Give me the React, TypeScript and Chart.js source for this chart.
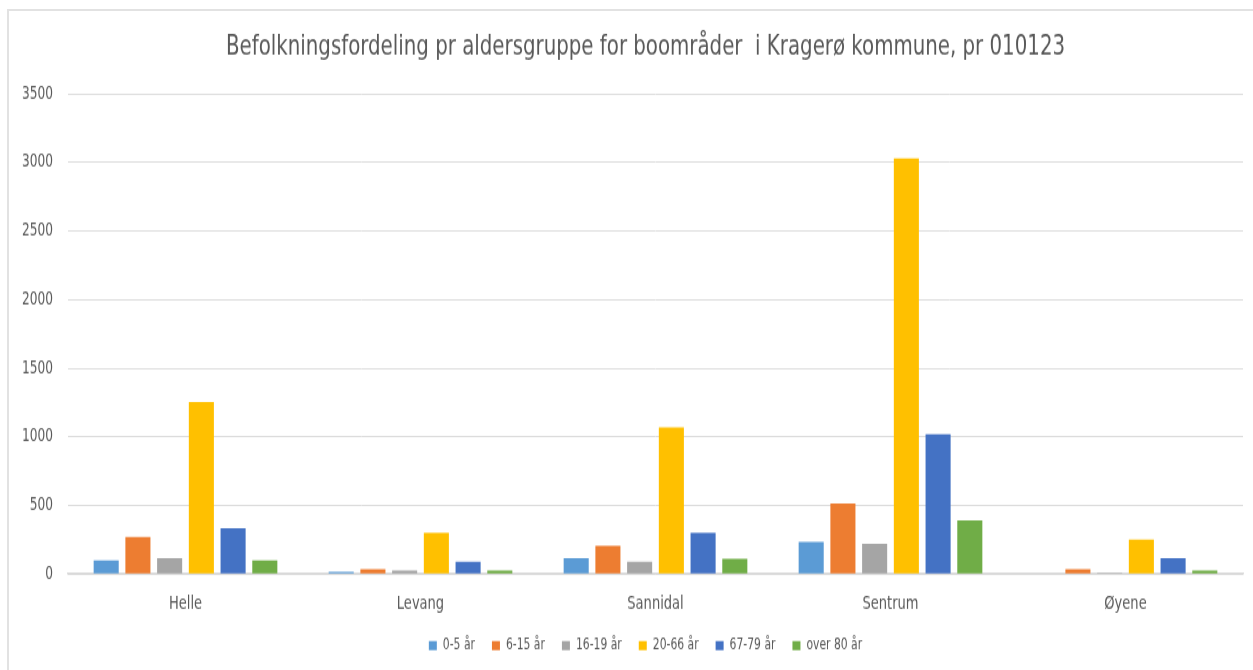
import React, { useEffect, useRef } from "react";
import { Chart, registerables } from "chart.js";

Chart.register(...registerables);

const categories = ["Helle", "Levang", "Sannidal", "Sentrum", "Øyene"];
const seriesNames = ["0-5 år", "6-15 år", "16-19 år", "20-66 år", "67-79 år", "over 80 år"];
const age0to5 = [100, 15, 115, 235, 0];
const age6to15 = [270, 35, 205, 515, 35];
const age16to19 = [115, 25, 90, 220, 8];
const age20to66 = [1255, 300, 1070, 3030, 250];
const age67to79 = [335, 90, 300, 1020, 115];
const over80 = [100, 25, 110, 390, 25];
const yTicks = [0, 500, 1000, 1500, 2000, 2500, 3000, 3500];
const yTickLabels = ["0", "500", "1000", "1500", "2000", "2500", "3000", "3500"];
const colors = ["#5B9BD5", "#ED7D31", "#A5A5A5", "#FFC000", "#4472C4", "#70AD47"];
const titleText = "Befolkningsfordeling pr aldersgruppe for boområder  i Kragerø kommune, pr 010123";

const FONT = "'DejaVu Sans Condensed', 'DejaVu Sans', sans-serif";
// the reference picture is stretched vertically; the canvas is drawn at a lower
// internal height and displayed at full height to match it
const CANVAS_W = 1275;
const CANVAS_H = 515;
const DISPLAY_H = 670;

export default function App() {
  const ref = useRef<HTMLCanvasElement | null>(null);
  useEffect(() => {
    document.body.style.margin = "0";
    const canvas = ref.current;
    if (!canvas) return;
    const seriesValues = [age0to5, age6to15, age16to19, age20to66, age67to79, over80];
    const chart = new Chart(canvas, {
      type: "bar",
      data: {
        labels: categories,
        datasets: seriesNames.map((name, i) => ({
          label: name,
          data: seriesValues[i],
          backgroundColor: colors[i],
          borderWidth: 0,
          categoryPercentage: 0.81,
          barPercentage: 0.79,
          yAxisID: "y",
        })),
      },
      options: {
        animation: false,
        responsive: false,
        maintainAspectRatio: false,
        devicePixelRatio: 1,
        layout: { padding: { left: 16, right: 0, top: 0, bottom: 2.8 } },
        plugins: {
          title: {
            display: true,
            text: titleText,
            color: "#595959",
            font: { family: FONT, size: 22, weight: "normal" },
            padding: { top: 22.9, bottom: 22.95 },
          },
          legend: {
            position: "bottom",
            labels: {
              boxWidth: 8,
              boxHeight: 7,
              color: "#595959",
              padding: 17,
              font: { family: FONT, size: 12 },
            },
          },
          tooltip: { enabled: false },
        },
        scales: {
          x: {
            grid: { display: false, drawTicks: false },
            border: { color: "#d9d9d9", width: 1.5 },
            ticks: { color: "#595959", font: { family: FONT, size: 14.5 }, padding: 14.4 },
            afterFit: (a: any) => {
              a.height = 32;
            },
          },
          y: {
            min: 0,
            max: 3500,
            grid: { color: "#dcdcdc", drawTicks: false, lineWidth: 1 },
            border: { display: false },
            afterBuildTicks: (a: any) => {
              a.ticks = yTicks.map((v) => ({ value: v }));
            },
            ticks: {
              color: "#595959",
              font: { family: FONT, size: 13.5 },
              padding: 15,
              callback: (_v: any, i: number) => yTickLabels[i],
            },
            afterFit: (a: any) => {
              a.width = 52;
            },
          },
          yRight: {
            type: "linear",
            position: "right",
            display: true,
            grid: { display: false, drawTicks: false },
            border: { display: false },
            ticks: { display: false },
            afterFit: (a: any) => {
              a.width = 32;
            },
          },
        },
      },
    });
    return () => chart.destroy();
  }, []);
  return (
    <div style={{ position: "fixed", left: 0, top: 0, width: 1253, height: 670, overflow: "hidden", background: "#fff" }}>
      <canvas
        ref={ref}
        width={CANVAS_W}
        height={CANVAS_H}
        style={{ position: "absolute", left: 0, top: 0, width: CANVAS_W, height: DISPLAY_H }}
      />
      <div
        style={{
          position: "absolute",
          left: 7,
          top: 9,
          width: 1300,
          height: 700,
          borderLeft: "2px solid #e2e2e2",
          borderTop: "2px solid #e2e2e2",
          pointerEvents: "none",
        }}
      />
    </div>
  );
}
